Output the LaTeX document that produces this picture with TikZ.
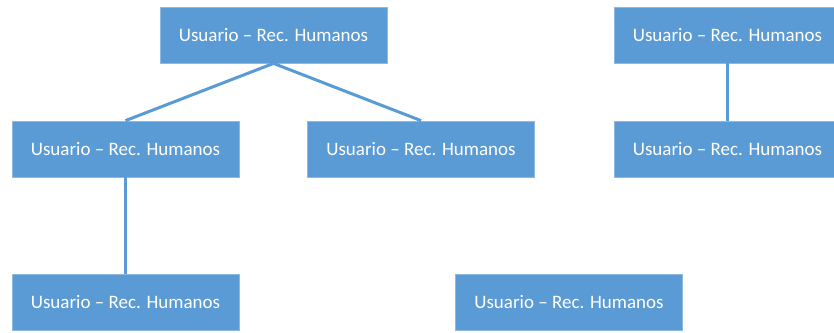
\documentclass[tikz,border=0pt]{standalone}
\usepackage{fontspec}
\setmainfont{Carlito}
\definecolor{boxblue}{HTML}{5B9BD5}
\definecolor{edgeblue}{HTML}{8DB9E3}
\tikzset{
  unit/.style={rectangle, fill=boxblue, draw=edgeblue, line width=0.8pt,
    minimum width=227pt, minimum height=56pt, inner sep=0pt,
    text=white, font=\fontsize{19}{22}\selectfont},
  link/.style={draw=boxblue, line width=3pt}
}
\begin{document}
\begin{tikzpicture}[x=1pt,y=-1pt]
\useasboundingbox (0,0) rectangle (834,332);
\begin{scope}
\clip (0,0) rectangle (834,332);
\node[unit] (a) at (273.5,35) {Usuario – Rec. Humanos};
\node[unit] (b) at (125.5,149) {Usuario – Rec. Humanos};
\node[unit] (c) at (421,149) {Usuario – Rec. Humanos};
\node[unit] (d) at (727.5,35) {Usuario – Rec. Humanos};
\node[unit] (e) at (727.5,149) {Usuario – Rec. Humanos};
\node[unit] (f) at (125.5,302.5) {Usuario – Rec. Humanos};
\node[unit] (g) at (569,302.5) {Usuario – Rec. Humanos};
\draw[link] (a.south) -- (b.north);
\draw[link] (a.south) -- (c.north);
\draw[link] (b.south) -- (f.north);
\draw[link] (d.south) -- (e.north);
\end{scope}
\end{tikzpicture}
\end{document}
